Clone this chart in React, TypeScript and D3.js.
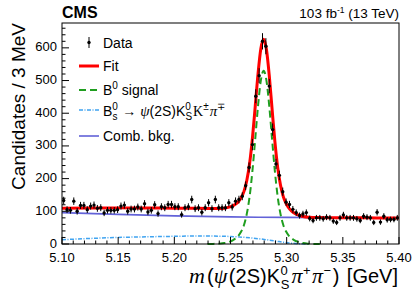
import React from "react";
import * as d3 from "d3";

// histogram: 100 bins of 3 MeV from 5.10 to 5.40 GeV
const massLo = 5.1;
const binWidth = 0.003;
const counts = [
  133, 105, 103, 131, 100, 118, 118, 105, 116, 119,
  109, 111, 95, 103, 103, 103, 105, 116, 119, 100,
  107, 107, 113, 107, 123, 98, 103, 120, 93, 114,
  111, 121, 121, 114, 114, 90, 111, 114, 136, 108,
  111, 97, 111, 126, 108, 136, 111, 111, 111, 126,
  113, 131, 136, 146, 178, 234, 304, 452, 515, 620,
  605, 483, 350, 245, 210, 160, 128, 121, 106, 96,
  87, 92, 96, 78, 72, 80, 80, 77, 82, 80,
  70, 66, 80, 89, 80, 80, 80, 77, 72, 85,
  82, 80, 66, 97, 67, 85, 74, 75, 75, 80,
];

// fit curves
const fitMass = [5.1, 5.125, 5.15, 5.175, 5.2, 5.22, 5.2295, 5.2345, 5.2395, 5.2445, 5.2495, 5.252, 5.2545, 5.257, 5.2595, 5.262, 5.2645, 5.267, 5.2695, 5.272, 5.2745, 5.277, 5.2795, 5.282, 5.2845, 5.287, 5.2895, 5.292, 5.2945, 5.297, 5.2995, 5.302, 5.3045, 5.307, 5.3095, 5.3145, 5.3195, 5.3245, 5.3295, 5.34, 5.36, 5.38, 5.4];
const fitVals = [109, 110, 110.5, 110, 109.5, 109.1, 108.5, 108.3, 108.6, 109.6, 113.4, 116.8, 121.9, 129.3, 141.8, 161, 194.2, 246.3, 323.4, 420.3, 520.2, 597.3, 626.2, 594.9, 515.5, 413.1, 313.8, 234.4, 180.2, 144.8, 123.5, 109.7, 100.8, 94.3, 89.6, 84.2, 81.9, 81.1, 80.7, 80.4, 80.1, 79.8, 79.5];

const sigMass = [5.2295, 5.2345, 5.2395, 5.2445, 5.2495, 5.252, 5.2545, 5.257, 5.2595, 5.262, 5.2645, 5.267, 5.2695, 5.272, 5.2745, 5.277, 5.2795, 5.282, 5.2845, 5.287, 5.2895, 5.292, 5.2945, 5.297, 5.2995, 5.302, 5.3045, 5.307, 5.3095, 5.3145, 5.3195, 5.3245, 5.3295];
const sigVals = [0, 0.3, 1, 2.8, 7.4, 11.3, 17, 25, 38, 58, 92, 145, 223, 321, 422, 500, 530, 500, 422, 321, 223, 145, 92, 58, 38, 25, 17, 11.3, 7.4, 2.8, 1, 0.3, 0];

const bsMass = [5.1, 5.125, 5.15, 5.175, 5.2, 5.22, 5.24, 5.25, 5.26, 5.27, 5.28, 5.29, 5.3, 5.31, 5.32];
const bsVals = [13, 17, 20, 22, 23.5, 24.5, 24, 23, 21, 18, 14, 9, 4, 1, 0];

const combMass = [5.1, 5.15, 5.2, 5.25, 5.3, 5.35, 5.4];
const combVals = [96, 90.5, 86, 83, 81.3, 80.2, 79.5];

const xTicks = [5.1, 5.15, 5.2, 5.25, 5.3, 5.35, 5.4];
const yTicks = [0, 100, 200, 300, 400, 500, 600];

const RED = "#ff0000";
const GREEN = "#1f9e1f";
const AZURE = "#3fa3f0";
const BLUE = "#6262d8";
const SANS = "'Liberation Sans', Arial, Helvetica, sans-serif";
const SERIF = "'Liberation Serif', 'Times New Roman', serif";

const W = 415, H = 298;
const L = 62, R = 399, T = 23, B = 244;

export default function App() {
  const x = d3.scaleLinear().domain([5.1, 5.4]).range([L, R]);
  const y = d3.scaleLinear().domain([0, 676]).range([B, T]);

  const line = (xs: number[], ys: number[]) =>
    d3.line<number>()
      .x((_, i) => x(xs[i]))
      .y((d) => y(d))
      .curve(d3.curveMonotoneX)(ys) || "";

  const minorX = d3.range(0, 31).map((i) => 5.1 + i * 0.01);
  const minorY = d3.range(0, 34).map((i) => i * 20);

  return (
    <svg width={W} height={H} style={{ position: "absolute", left: 0, top: 0, background: "#fff" }} fontFamily={SANS}>
      {/* header */}
      <text x={L} y={18} fontSize={16} fontWeight="bold">CMS</text>
      <text x={R} y={18} fontSize={13.5} textAnchor="end">
        103 fb<tspan fontSize={8.5} dy={-5}>-1</tspan><tspan dy={5}> (13 TeV)</tspan>
      </text>

      {/* curves */}
      <path d={line(combMass, combVals)} fill="none" stroke={BLUE} strokeWidth={1.6} />
      <path d={line(bsMass, bsVals)} fill="none" stroke={AZURE} strokeWidth={1.5} strokeDasharray="4,1.5,1,1.5" />
      <path d={line(sigMass, sigVals)} fill="none" stroke={GREEN} strokeWidth={2} strokeDasharray="7,4" />
      <path d={line(fitMass, fitVals)} fill="none" stroke={RED} strokeWidth={3} />

      {/* data */}
      <g>
        {counts.map((n, i) => {
          const cx = x(massLo + binWidth * (i + 0.5));
          const e = Math.sqrt(n);
          return (
            <g key={i}>
              <line x1={cx} x2={cx} y1={y(n - e)} y2={y(n + e)} stroke="#000" strokeWidth={1} />
              <circle cx={cx} cy={y(n)} r={1.7} fill="#000" />
            </g>
          );
        })}
      </g>

      {/* frame */}
      <rect x={L} y={T} width={R - L} height={B - T} fill="none" stroke="#000" strokeWidth={1} />

      {/* x axis */}
      {minorX.map((v, i) => (
        <line key={"mx" + i} x1={x(v)} x2={x(v)} y1={B} y2={B - (i % 5 === 0 ? 7 : 3.5)} stroke="#000" />
      ))}
      {xTicks.map((v) => (
        <text key={"xt" + v} x={x(v)} y={B + 17.5} fontSize={13} textAnchor="middle">{v.toFixed(2)}</text>
      ))}

      {/* y axis */}
      {minorY.map((v, i) => (
        <line key={"my" + i} x1={L} x2={L + (i % 5 === 0 ? 7 : 3.5)} y1={y(v)} y2={y(v)} stroke="#000" />
      ))}
      {yTicks.map((v) => (
        <text key={"yt" + v} x={L - 5} y={y(v) + 3.5} fontSize={13} textAnchor="end">{v}</text>
      ))}

      {/* axis titles */}
      <text transform={`translate(25,${T}) rotate(-90)`} fontSize={19} textAnchor="end">Candidates / 3 MeV</text>
      <text x={R - 1} y={283} fontSize={20} textAnchor="end">
        <tspan fontFamily={SERIF} fontStyle="italic" fontSize={22}>m</tspan>
        <tspan dx={2}>(</tspan>
        <tspan fontFamily={SERIF} fontStyle="italic" fontSize={22}>ψ</tspan>
        <tspan dx={1.5}>(2S)K</tspan>
        <tspan fontSize={13} dx={0.5} dy={-8}>0</tspan>
        <tspan fontSize={13} dx={-7} dy={14}>S</tspan>
        <tspan fontFamily={SERIF} fontStyle="italic" fontSize={22} dx={2} dy={-6}>π</tspan>
        <tspan fontSize={13} dx={0.5} dy={-8}>+</tspan>
        <tspan fontFamily={SERIF} fontStyle="italic" fontSize={22} dx={1.5} dy={8}>π</tspan>
        <tspan fontSize={13} dx={0.5} dy={-8}>−</tspan>
        <tspan dx={1.5} dy={8}>)</tspan>
        <tspan dx={2}>{"\u00a0[GeV]"}</tspan>
      </text>

      {/* legend */}
      <g fontSize={14}>
        <line x1={89} x2={89} y1={37} y2={48} stroke="#000" />
        <circle cx={89} cy={42.5} r={1.7} fill="#000" />
        <text x={103} y={47.5}>Data</text>

        <line x1={79} x2={99} y1={66} y2={66} stroke={RED} strokeWidth={3} />
        <text x={103} y={71}>Fit</text>

        <line x1={79} x2={99} y1={90} y2={90} stroke={GREEN} strokeWidth={2} strokeDasharray="7,4" />
        <text x={103} y={95}>B<tspan fontSize={10} dy={-6}>0</tspan><tspan dy={6}> signal</tspan></text>

        <line x1={79} x2={99} y1={110} y2={110} stroke={AZURE} strokeWidth={1.5} strokeDasharray="4,1.5,1,1.5" />
        <text x={103} y={115.5}>
          B<tspan fontSize={10} dy={-6}>0</tspan>
          <tspan fontSize={10} dx={-5.5} dy={10}>s</tspan>
          <tspan dx={1} dy={-4}> → </tspan>
          <tspan fontFamily={SERIF} fontStyle="italic" fontSize={15}>ψ</tspan>
          <tspan>(2S)K</tspan>
          <tspan fontSize={10} dy={-6}>0</tspan>
          <tspan fontSize={10} dx={-5.5} dy={10}>S</tspan>
          <tspan fontFamily={SERIF} dx={1} dy={-4}>K</tspan>
          <tspan fontSize={10} dy={-6}>±</tspan>
          <tspan fontFamily={SERIF} fontStyle="italic" fontSize={15} dx={1} dy={6}>π</tspan>
          <tspan fontSize={10} dy={-6}>∓</tspan>
        </text>

        <line x1={79} x2={99} y1={136} y2={136} stroke={BLUE} strokeWidth={1.6} />
        <text x={103} y={141}>Comb. bkg.</text>
      </g>
    </svg>
  );
}
